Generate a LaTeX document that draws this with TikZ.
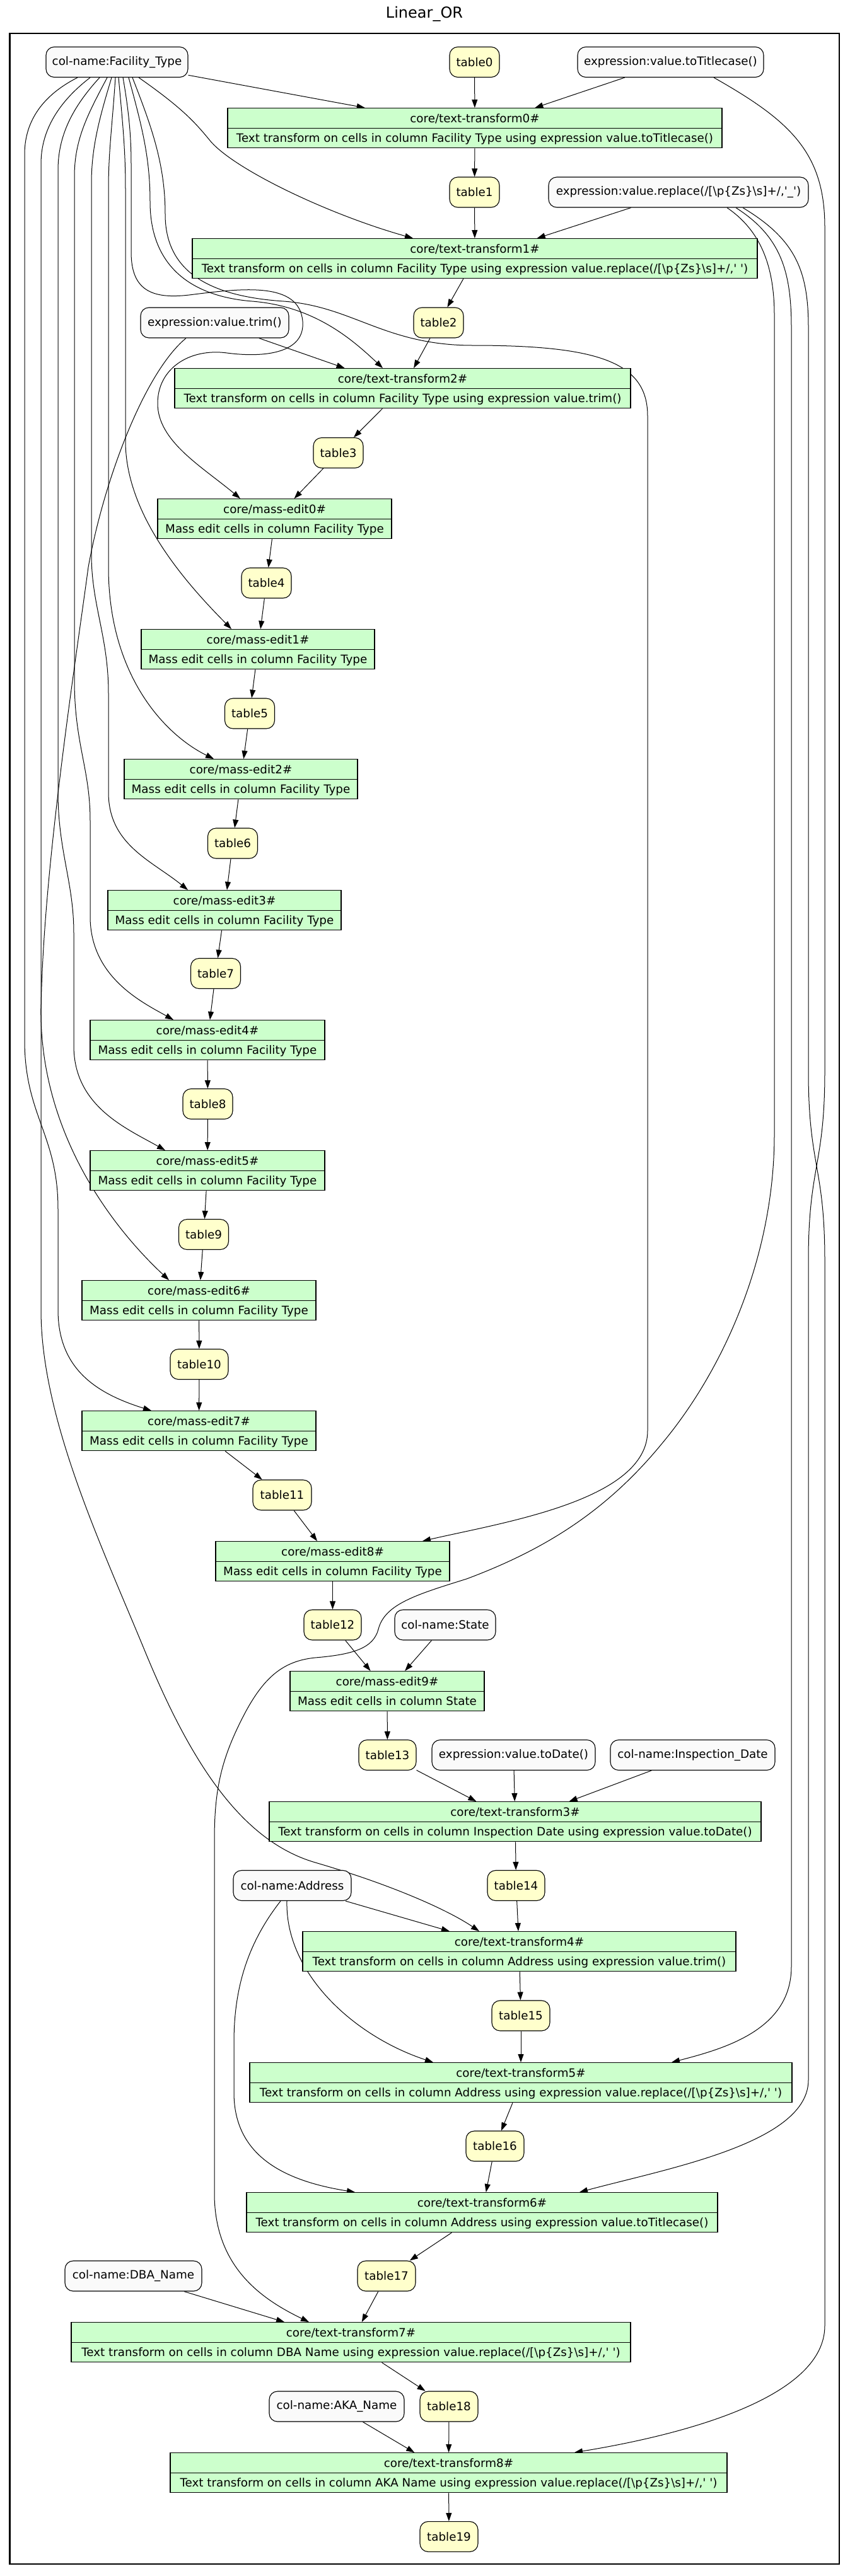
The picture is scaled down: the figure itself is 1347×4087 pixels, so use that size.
\documentclass[tikz,border=0pt]{standalone}
\usepackage{fontspec}
\setmainfont{DejaVu Sans}[Ligatures=TeXOff]
\usetikzlibrary{arrows.meta,shapes.multipart}
\definecolor{recgreen}{HTML}{CCFFCC}
\definecolor{tabyellow}{HTML}{FFFFCC}
\definecolor{attrwhite}{HTML}{FAFAFA}
\newcommand{\bodyfont}{\fontsize{18.3pt}{22pt}\selectfont}
\newcommand{\titlefont}{\fontsize{24pt}{28pt}\selectfont}
\newcommand{\rs}{\rule[-8.5pt]{0pt}{30.5pt}}
\newcommand{\mybs}{\textbackslash}
\pgfdeclarelayer{edgelayer}
\pgfdeclarelayer{paper}
\pgfsetlayers{paper,edgelayer,main}
\begin{document}
\begin{tikzpicture}[x=1pt,y=-1pt,
 tabnode/.style={draw=black, fill=tabyellow, line width=1.1pt, rounded corners=13pt, minimum height=48pt, inner sep=0pt, font=\bodyfont},
 attrnode/.style={draw=black, fill=attrwhite, line width=1.1pt, rounded corners=13pt, minimum height=48pt, inner sep=0pt, font=\bodyfont},
 recnode/.style={rectangle split, rectangle split parts=2, draw=black, fill=recgreen, line width=1.1pt, inner sep=0pt, font=\bodyfont, anchor=north},
 conn/.style={draw=black, line width=1pt, -{Triangle[length=13pt,width=9pt]}},
]
\useasboundingbox (0,0) rectangle (1347,4087);
\begin{pgfonlayer}{paper}
\fill[white] (0,0) rectangle (1347,4087);
\end{pgfonlayer}
\draw[line width=2.5pt] (15.5,53) rectangle (1331,4068);
\node[font=\titlefont] (title) at (673,22) {Linear\_OR};

% ---- nodes ----
\node[attrnode, minimum width=225pt] (ft) at (185.5,98.5) {col-name:Facility\_Type};
\node[tabnode, minimum width=79pt] (t0) at (752.5,98.5) {table0};
\node[attrnode, minimum width=295pt] (titlecase) at (1063.5,98.5) {expression:value.toTitlecase()};
\node[recnode, minimum width=784pt] (tt0) at (753,171) {\rs core/text-transform0\#\nodepart{two}\rs Text transform on cells in column Facility Type using expression value.toTitlecase()};
\node[tabnode, minimum width=79pt] (t1) at (752.5,305) {table1};
\node[attrnode, minimum width=412pt] (replace) at (1076,305) {expression:value.replace(/[\mybs p\{Zs\}\mybs s]+/,'\_')};
\node[recnode, minimum width=896pt] (tt1) at (753,378) {\rs core/text-transform1\#\nodepart{two}\rs Text transform on cells in column Facility Type using expression value.replace(/[\mybs p\{Zs\}\mybs s]+/,' ')};
\node[tabnode, minimum width=79pt] (t2) at (695.5,512) {table2};
\node[attrnode, minimum width=235pt] (trim) at (340.5,512) {expression:value.trim()};
\node[recnode, minimum width=723pt] (tt2) at (638.5,584) {\rs core/text-transform2\#\nodepart{two}\rs Text transform on cells in column Facility Type using expression value.trim()};
\node[tabnode, minimum width=79pt] (t3) at (536.5,718.5) {table3};
\node[recnode, minimum width=371pt] (me0) at (435.5,791) {\rs core/mass-edit0\#\nodepart{two}\rs Mass edit cells in column Facility Type};
\node[tabnode, minimum width=79pt] (t4) at (422.5,925) {table4};
\node[recnode, minimum width=370pt] (me1) at (409,998) {\rs core/mass-edit1\#\nodepart{two}\rs Mass edit cells in column Facility Type};
\node[tabnode, minimum width=79pt] (t5) at (396,1132) {table5};
\node[recnode, minimum width=370pt] (me2) at (382,1204) {\rs core/mass-edit2\#\nodepart{two}\rs Mass edit cells in column Facility Type};
\node[tabnode, minimum width=79pt] (t6) at (369,1338) {table6};
\node[recnode, minimum width=370pt] (me3) at (356,1412) {\rs core/mass-edit3\#\nodepart{two}\rs Mass edit cells in column Facility Type};
\node[tabnode, minimum width=79pt] (t7) at (342,1544.5) {table7};
\node[recnode, minimum width=372pt] (me4) at (329,1618) {\rs core/mass-edit4\#\nodepart{two}\rs Mass edit cells in column Facility Type};
\node[tabnode, minimum width=79pt] (t8) at (329.5,1751.5) {table8};
\node[recnode, minimum width=372pt] (me5) at (329,1825) {\rs core/mass-edit5\#\nodepart{two}\rs Mass edit cells in column Facility Type};
\node[tabnode, minimum width=79pt] (t9) at (323,1958.5) {table9};
\node[recnode, minimum width=371pt] (me6) at (315.5,2031) {\rs core/mass-edit6\#\nodepart{two}\rs Mass edit cells in column Facility Type};
\node[tabnode, minimum width=92pt] (t10) at (316,2164.5) {table10};
\node[recnode, minimum width=371pt] (me7) at (315.5,2238) {\rs core/mass-edit7\#\nodepart{two}\rs Mass edit cells in column Facility Type};
\node[tabnode, minimum width=93pt] (t11) at (447.5,2372) {table11};
\node[recnode, minimum width=371pt] (me8) at (527.5,2445) {\rs core/mass-edit8\#\nodepart{two}\rs Mass edit cells in column Facility Type};
\node[tabnode, minimum width=91pt] (t12) at (527.5,2578) {table12};
\node[attrnode, minimum width=160pt] (state) at (706,2578) {col-name:State};
\node[recnode, minimum width=308pt] (me9) at (614,2651) {\rs core/mass-edit9\#\nodepart{two}\rs Mass edit cells in column State};
\node[tabnode, minimum width=91pt] (t13) at (614.5,2784.5) {table13};
\node[attrnode, minimum width=259pt] (todate) at (814.5,2784.5) {expression:value.toDate()};
\node[attrnode, minimum width=261pt] (insp) at (1098.5,2784.5) {col-name:Inspection\_Date};
\node[recnode, minimum width=780pt] (tt3) at (817,2858) {\rs core/text-transform3\#\nodepart{two}\rs Text transform on cells in column Inspection Date using expression value.toDate()};
\node[attrnode, minimum width=187pt] (address) at (463.5,2991.5) {col-name:Address};
\node[tabnode, minimum width=91pt] (t14) at (818.5,2991.5) {table14};
\node[recnode, minimum width=687pt] (tt4) at (823.5,3064) {\rs core/text-transform4\#\nodepart{two}\rs Text transform on cells in column Address using expression value.trim()};
\node[tabnode, minimum width=92pt] (t15) at (826,3198) {table15};
\node[recnode, minimum width=860pt] (tt5) at (826,3272) {\rs core/text-transform5\#\nodepart{two}\rs Text transform on cells in column Address using expression value.replace(/[\mybs p\{Zs\}\mybs s]+/,' ')};
\node[tabnode, minimum width=92pt] (t16) at (785,3405) {table16};
\node[recnode, minimum width=747pt] (tt6) at (764.5,3478) {\rs core/text-transform6\#\nodepart{two}\rs Text transform on cells in column Address using expression value.toTitlecase()};
\node[attrnode, minimum width=217pt] (dba) at (211.5,3611) {col-name:DBA\_Name};
\node[tabnode, minimum width=92pt] (t17) at (613,3611) {table17};
\node[recnode, minimum width=887pt] (tt7) at (556.5,3684) {\rs core/text-transform7\#\nodepart{two}\rs Text transform on cells in column DBA Name using expression value.replace(/[\mybs p\{Zs\}\mybs s]+/,' ')};
\node[attrnode, minimum width=214pt] (aka) at (534,3818) {col-name:AKA\_Name};
\node[tabnode, minimum width=92pt] (t18) at (712,3818) {table18};
\node[recnode, minimum width=883pt] (tt8) at (711.5,3891) {\rs core/text-transform8\#\nodepart{two}\rs Text transform on cells in column AKA Name using expression value.replace(/[\mybs p\{Zs\}\mybs s]+/,' ')};
\node[tabnode, minimum width=92pt] (t19) at (712,4024.5) {table19};

% ---- edges ----
\begin{pgfonlayer}{edgelayer}
\draw[conn] (ft) -- (tt0);
\draw[conn] (t0) -- (tt0);
\draw[conn] (titlecase) -- (tt0);
\draw[conn] (tt0) -- (t1);
\draw[conn] (t1) -- (tt1);
\draw[conn] (replace) -- (tt1);
\draw[conn] (tt1) -- (t2);
\draw[conn] (t2) -- (tt2);
\draw[conn] (trim) -- (tt2);
\draw[conn] (tt2) -- (t3);
\draw[conn] (t3) -- (me0);
\draw[conn] (me0) -- (t4);
\draw[conn] (t4) -- (me1);
\draw[conn] (me1) -- (t5);
\draw[conn] (t5) -- (me2);
\draw[conn] (me2) -- (t6);
\draw[conn] (t6) -- (me3);
\draw[conn] (me3) -- (t7);
\draw[conn] (t7) -- (me4);
\draw[conn] (me4) -- (t8);
\draw[conn] (t8) -- (me5);
\draw[conn] (me5) -- (t9);
\draw[conn] (t9) -- (me6);
\draw[conn] (me6) -- (t10);
\draw[conn] (t10) -- (me7);
\draw[conn] (me7) -- (t11);
\draw[conn] (t11) -- (me8);
\draw[conn] (me8) -- (t12);
\draw[conn] (t12) -- (me9);
\draw[conn] (state) -- (me9);
\draw[conn] (me9) -- (t13);
\draw[conn] (t13) -- (tt3);
\draw[conn] (todate) -- (tt3);
\draw[conn] (insp) -- (tt3);
\draw[conn] (tt3) -- (t14);
\draw[conn] (t14) -- (tt4);
\draw[conn] (address) -- (tt4);
\draw[conn] (tt4) -- (t15);
\draw[conn] (t15) -- (tt5);
\draw[conn] (tt5) -- (t16);
\draw[conn] (t16) -- (tt6);
\draw[conn] (tt6) -- (t17);
\draw[conn] (t17) -- (tt7);
\draw[conn] (dba) -- (tt7);
\draw[conn] (tt7) -- (t18);
\draw[conn] (t18) -- (tt8);
\draw[conn] (aka) -- (tt8);
\draw[conn] (tt8) -- (t19);

% Facility_Type fan-out
\draw[conn] ([xshift=34.5pt]ft.south) .. controls (290,172) and (310,195) .. (333,223) .. controls (370,268) and (520,340) .. ([xshift=-98pt]tt1.north);
\draw[conn] ([xshift=18.5pt]ft.south) .. controls (225,200) and (238,250) .. (238,320) .. controls (238,420) and (300,470) .. (400,478) .. controls (500,486) and (560,540) .. ([xshift=-31.5pt]tt2.north);
\draw[conn] ([xshift=24.5pt]ft.south) .. controls (240,200) and (262,260) .. (262,340) .. controls (262,430) and (330,470) .. (450,478) .. controls (560,486) and (610,548) .. (750,548) .. controls (950,548) and (1027,575) .. (1027,660) -- (1027,2270) .. controls (1027,2380) and (800,2415) .. ([xshift=142.5pt]me8.north);
\draw[conn] ([xshift=9.5pt]ft.south) .. controls (205,180) and (208,220) .. (208,260) -- (208,400) .. controls (208,460) and (240,475) .. (300,468) .. controls (380,458) and (475,445) .. (480,510) .. controls (484,560) and (420,568) .. (360,560) .. controls (300,552) and (250,585) .. (250,640) .. controls (250,700) and (320,740) .. ([xshift=-54.5pt]me0.north);
\draw[conn] ([xshift=2.5pt]ft.south) .. controls (195,200) and (199,240) .. (199,300) -- (199,700) .. controls (199,820) and (300,930) .. ([xshift=-42pt]me1.north);
\draw[conn] ([xshift=-2.5pt]ft.south) .. controls (178,200) and (172,240) .. (172,300) -- (172,900) .. controls (172,1070) and (260,1165) .. ([xshift=-43pt]me2.north);
\draw[conn] ([xshift=-8.5pt]ft.south) .. controls (160,180) and (145,230) .. (145,290) -- (145,880) .. controls (145,960) and (172,1010) .. (172,1100) -- (172,1257) .. controls (172,1340) and (240,1365) .. ([xshift=-58pt]me3.north);
\draw[conn] ([xshift=-15.5pt]ft.south) .. controls (140,180) and (118,220) .. (118,280) -- (118,1079) .. controls (118,1180) and (143,1220) .. (143,1302) -- (143,1454) .. controls (143,1550) and (225,1590) .. ([xshift=-54pt]me4.north);
\draw[conn] ([xshift=-27.5pt]ft.south) .. controls (115,170) and (92,215) .. (92,270) -- (92,1257) .. controls (92,1350) and (117,1400) .. (117,1480) -- (117,1659) .. controls (117,1755) and (200,1790) .. ([xshift=-67pt]me5.north);
\draw[conn] ([xshift=-42.5pt]ft.south) .. controls (95,160) and (65,205) .. (65,260) -- (65,1600) .. controls (63,1780) and (160,1930) .. ([xshift=-47.5pt]me6.north);
\draw[conn] ([xshift=-62.5pt]ft.south) .. controls (70,150) and (39,190) .. (39,245) -- (39,1650) .. controls (39,1770) and (92,1800) .. (92,1918) -- (92,2078) .. controls (92,2170) and (150,2210) .. ([xshift=-75.5pt]me7.north);

% trim -> text-transform4
\draw[conn] ([xshift=-45.5pt]trim.south) .. controls (230,590) and (165,760) .. (140,900) .. controls (120,1050) and (65,1400) .. (65,1620) -- (65,2078) .. controls (65,2250) and (160,2450) .. (230,2620) .. controls (300,2790) and (380,2920) .. (500,2955) .. controls (620,2990) and (710,3030) .. ([xshift=-63.5pt]tt4.north);

% replace expression
\draw[conn] ([xshift=77pt]replace.south) .. controls (1205,365) and (1228,420) .. (1228,500) -- (1228,1800) .. controls (1228,1990) and (1150,2170) .. (1050,2290) .. controls (960,2400) and (860,2460) .. (740,2505) .. controls (660,2530) and (610,2545) .. (600,2585) .. controls (592,2615) and (560,2625) .. (500,2630) .. controls (450,2635) and (420,2660) .. (390,2715) .. controls (350,2790) and (340,2840) .. (340,2920) -- (340,3480) .. controls (340,3600) and (420,3650) .. ([xshift=-66.5pt]tt7.north);
\draw[conn] ([xshift=91pt]replace.south) .. controls (1238,375) and (1255,430) .. (1255,520) -- (1255,3120) .. controls (1255,3220) and (1150,3250) .. ([xshift=239pt]tt5.north);
\draw[conn] ([xshift=102pt]replace.south) .. controls (1262,380) and (1282,430) .. (1282,520) -- (1282,1700) .. controls (1282,1850) and (1308,1850) .. (1308,2000) -- (1308,3690) .. controls (1308,3800) and (1100,3860) .. ([xshift=199.5pt]tt8.north);

% toTitlecase -> text-transform6
\draw[conn] ([xshift=68.5pt]titlecase.south) .. controls (1250,190) and (1308,240) .. (1308,360) -- (1308,1700) .. controls (1308,1850) and (1282,1850) .. (1282,2000) -- (1282,3300) .. controls (1282,3400) and (1060,3440) .. ([xshift=154.5pt]tt6.north);

% Address
\draw[conn] ([xshift=-8.5pt]address.south) .. controls (452,3130) and (560,3230) .. ([xshift=-139pt]tt5.north);
\draw[conn] ([xshift=-18.5pt]address.south) .. controls (395,3080) and (371,3150) .. (371,3240) -- (371,3320) .. controls (371,3420) and (450,3460) .. ([xshift=-201.5pt]tt6.north);
\end{pgfonlayer}
\end{tikzpicture}
\end{document}
